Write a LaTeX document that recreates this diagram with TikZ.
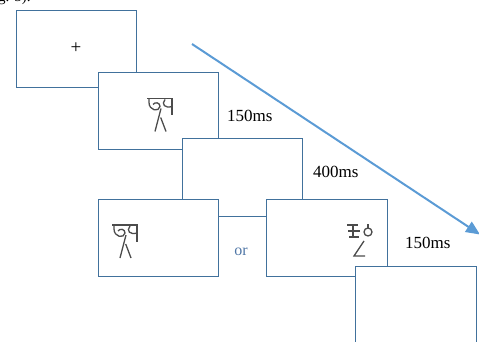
\documentclass[tikz,border=0pt]{standalone}
\usepackage{fontspec}
\setmainfont{Liberation Serif}
\usetikzlibrary{arrows.meta}
\definecolor{boxc}{HTML}{41719C}
\definecolor{arrc}{HTML}{5B9BD5}
\definecolor{orc}{HTML}{4F76A6}
\tikzset{
  frame/.style={draw=boxc, line width=1.4pt, fill=white, rectangle, inner sep=0pt, anchor=north west},
  lbl/.style={font=\fontsize{17}{19}\selectfont, inner sep=0pt, anchor=base west},
  glyph/.style={draw=black!70, line width=1.3pt},
  charA/.pic={
    \draw[glyph] (0,0) -- (26,0);
    \draw[glyph] (2,0) -- (2,4) .. controls (2,12) and (12,14) .. (13,8) .. controls (13,4) and (8,3) .. (6,6);
    \draw[glyph] (18,1) .. controls (14,6) and (18,10) .. (25,8);
    \draw[glyph] (25,0) -- (25,17);
    \draw[glyph] (14,10) -- (8,33);
    \draw[glyph] (13.7,19) -- (19,33);
  },
  charB/.pic={
    \draw[glyph] (0,1) -- (11,1);
    \draw[glyph] (1,7) -- (13,7);
    \draw[glyph] (2,13) -- (12,13);
    \draw[glyph] (6,1) -- (6,13);
    \draw[glyph] (21,8) circle (4);
    \draw[glyph] (21,0) -- (21,4);
    \draw[glyph] (17,17) -- (7,32) -- (18,32);
  }
}
\begin{document}
\begin{tikzpicture}[x=1pt,y=-1pt]
\useasboundingbox (0,0) rectangle (479,342);
% fragment of text above
\node[lbl, font=\fontsize{15}{17}\selectfont] (frag) at (-2,2) {g. 5).};
% boxes
\node[frame, minimum width=120pt, minimum height=77pt] (b1) at (16,10) {};
\node[font=\fontsize{19}{21}\selectfont, inner sep=0pt] (plus) at (76,48) {+};
\node[frame, minimum width=120pt, minimum height=77pt] (b2) at (98,72) {};
\pic at (147,98.5) {charA};
\node[frame, minimum width=120pt, minimum height=78pt] (b3) at (182,138) {};
\node[frame, minimum width=120pt, minimum height=77pt] (bA) at (98,199) {};
\pic at (112,225) {charA};
\node[frame, minimum width=121pt, minimum height=77pt] (bB) at (266,199) {};
\pic at (347,224) {charB};
\node[frame, minimum width=121pt, minimum height=77pt] (bC) at (355,266) {};
% labels
\node[lbl] (t1) at (227,122) {150ms};
\node[lbl] (t2) at (313,177) {400ms};
\node[lbl] (t3) at (405,248) {150ms};
\node[lbl, text=orc, anchor=base, font=\fontsize{16}{18}\selectfont] (or) at (241,255) {or};
% time arrow
\coordinate (as) at (192,44);
\coordinate (ae) at (480,234.5);
\draw[arrc, line width=2pt, -{Triangle[length=14pt,width=12pt]}] (as) -- (ae);
\end{tikzpicture}
\end{document}
